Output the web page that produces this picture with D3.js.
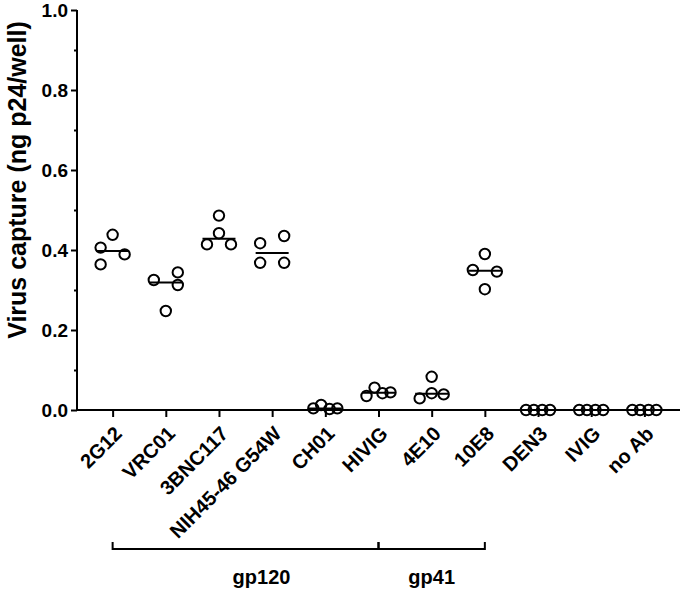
<!DOCTYPE html>
<html>
<head>
<meta charset="utf-8">
<script src="https://cdn.jsdelivr.net/npm/d3@7"></script>
<style>
  html, body { margin: 0; padding: 0; background: #fff; }
  svg { display: block; }
  text { font-family: "Liberation Sans", Arial, Helvetica, sans-serif; font-weight: bold; fill: #000; }
</style>
</head>
<body>
<svg id="chart" width="680" height="590"></svg>
<script>
// ---- data ----
const categories = ["2G12", "VRC01", "3BNC117", "NIH45-46 G54W", "CH01", "HIVIG", "4E10", "10E8", "DEN3", "IVIG", "no Ab"];
const values = [
  [0.406, 0.438, 0.389, 0.364],
  [0.325, 0.344, 0.3125, 0.2475],
  [0.486, 0.442, 0.414, 0.414],
  [0.417, 0.435, 0.368, 0.368],
  [0.004, 0.0125, 0.0025, 0.004],
  [0.035, 0.056, 0.042, 0.044],
  [0.029, 0.083, 0.042, 0.039],
  [0.390, 0.350, 0.346, 0.302],
  [0, 0, 0, 0],
  [0, 0, 0, 0],
  [0, 0, 0, 0]
];
// horizontal spread slot of each replicate (GraphPad-style scatter spread)
const spread = [
  [-1, 0, 1, -1],
  [-1, 1, 1, 0],
  [0, 0, -1, 1],
  [-1, 1, -1, 1],
  [-1, -0.35, 0.35, 1],
  [-1, -0.33, 0.33, 1],
  [-1, 0, 0, 1],
  [0, -1, 1, 0],
  [-1, -0.35, 0.35, 1],
  [-1, -0.35, 0.35, 1],
  [-1, -0.35, 0.35, 1]
];
const yTicks = [0.0, 0.2, 0.4, 0.6, 0.8, 1.0];
const yMinorTicks = [0.1, 0.3, 0.5, 0.7, 0.9];
const yTitle = "Virus capture (ng p24/well)";
const groupLabels = ["gp120", "gp41"];
const groupFrom = ["2G12", "HIVIG"];
const groupTo = ["HIVIG", "10E8"];
const groupLabelIndex = [2.8, 6];

// ---- layout ----
const svg = d3.select("#chart");
const mLeft = 77, mRight = 680, mTop = 10, mBottom = 410;
const x = d3.scalePoint().domain(categories).range([mLeft, mRight]).padding(0.67);
const y = d3.scaleLinear().domain([0, 1]).range([mBottom, mTop]);
const slotPx = 12;
const r = 5.2;

// y axis
const yAxis = svg.append("g").attr("transform", `translate(${mLeft},0)`)
  .call(d3.axisLeft(y).tickValues(yTicks).tickFormat(d3.format(".1f")).tickSize(6).tickPadding(3));
yAxis.select(".domain").attr("stroke-width", 2).attr("d", `M0,${mTop}V${mBottom}`);
yAxis.selectAll(".tick line").attr("stroke-width", 2);
yAxis.selectAll(".tick text").style("font-size", "19px").attr("dy", "0.36em");
svg.append("g").attr("transform", `translate(${mLeft},0)`)
  .call(d3.axisLeft(y).tickValues(yMinorTicks).tickFormat("").tickSize(3))
  .call(g => g.select(".domain").remove())
  .selectAll(".tick line").attr("stroke-width", 2);

// x axis
const xAxis = svg.append("g").attr("transform", `translate(0,${mBottom})`)
  .call(d3.axisBottom(x).tickSize(7).tickSizeOuter(0));
xAxis.select(".domain").attr("stroke-width", 2).attr("d", `M${mLeft},0H${mRight}`);
xAxis.selectAll(".tick line").attr("stroke-width", 2);
xAxis.selectAll(".tick text")
  .style("font-size", "20px")
  .attr("text-anchor", "end")
  .attr("dy", null).attr("y", null)
  .attr("transform", "translate(10,25) rotate(-45)");

// y title
svg.append("text")
  .attr("transform", `translate(26,180) rotate(-90)`)
  .attr("text-anchor", "middle")
  .style("font-size", "25px")
  .text(yTitle);

// points
const pts = [];
categories.forEach((c, i) => values[i].forEach((v, j) => pts.push({ c, v, s: spread[i][j] })));
svg.append("g").selectAll("circle").data(pts).join("circle")
  .attr("cx", d => x(d.c) + d.s * slotPx)
  .attr("cy", d => y(d.v))
  .attr("r", r)
  .attr("fill", "none")
  .attr("stroke", "#000")
  .attr("stroke-width", 2);

// medians
svg.append("g").selectAll("line").data(categories).join("line")
  .attr("x1", c => x(c) - 16.5)
  .attr("x2", c => x(c) + 16.5)
  .attr("y1", (c, i) => y(d3.median(values[i])))
  .attr("y2", (c, i) => y(d3.median(values[i])))
  .attr("stroke", "#000")
  .attr("stroke-width", 2);

// group brackets
const bracketY = 549, bracketTick = 7;
const gb = svg.append("g");
groupLabels.forEach((lab, k) => {
  const x0 = x(groupFrom[k]), x1 = x(groupTo[k]);
  gb.append("path")
    .attr("d", `M${x0},${bracketY - bracketTick}V${bracketY}H${x1}V${bracketY - bracketTick}`)
    .attr("fill", "none").attr("stroke", "#000").attr("stroke-width", 2);
  gb.append("text")
    .attr("x", x(categories[0]) + groupLabelIndex[k] * x.step())
    .attr("y", 584)
    .attr("text-anchor", "middle")
    .style("font-size", "20px")
    .text(lab);
});
</script>
</body>
</html>
